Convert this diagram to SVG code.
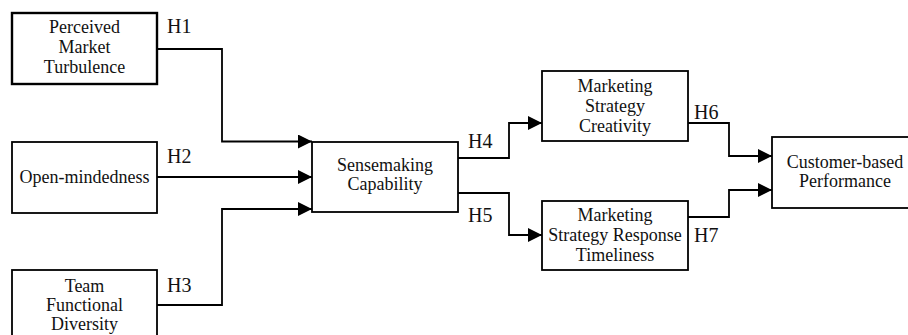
<svg xmlns="http://www.w3.org/2000/svg" width="908" height="335" viewBox="0 0 908 335">
<defs>
<style>
.box{fill:#fff;stroke:#000;stroke-width:1.8}
.t{font-family:"Liberation Serif","Times New Roman",serif;font-size:18px;fill:#111;text-anchor:middle}
.h{font-family:"Liberation Serif","Times New Roman",serif;font-size:20px;fill:#111}
.c{fill:none;stroke:#000;stroke-width:1.8}
</style>
<marker id="arr" markerUnits="userSpaceOnUse" markerWidth="15" markerHeight="14" refX="14" refY="7" orient="auto">
<path d="M0,0 L14,7 L0,14 Z" fill="#000"/>
</marker>
</defs>
<rect width="908" height="335" fill="#fff"/>
<g id="connectors">
<polyline class="c" points="157,49 222,49 222,141.5 312,141.5" marker-end="url(#arr)"/>
<polyline class="c" points="157,177 312,177" marker-end="url(#arr)"/>
<polyline class="c" points="157,305 222,305 222,209 312,209" marker-end="url(#arr)"/>
<polyline class="c" points="458,158 509,158 509,123 542,123" marker-end="url(#arr)"/>
<polyline class="c" points="458,193 509,193 509,235 542,235" marker-end="url(#arr)"/>
<polyline class="c" points="688,123 729,123 729,156 772,156" marker-end="url(#arr)"/>
<polyline class="c" points="688,217 729,217 729,190 772,190" marker-end="url(#arr)"/>
<text class="h" x="167" y="33">H1</text>
<text class="h" x="167" y="163">H2</text>
<text class="h" x="167" y="292">H3</text>
<text class="h" x="468" y="148">H4</text>
<text class="h" x="468" y="222">H5</text>
<text class="h" x="694" y="119">H6</text>
<text class="h" x="694" y="242">H7</text>
</g>
<g id="pmt">
<rect class="box" x="12" y="13" width="145" height="71" style="stroke-width:2.4"/>
<text class="t" x="84.5" y="33">Perceived</text>
<text class="t" x="84.5" y="53">Market</text>
<text class="t" x="84.5" y="73">Turbulence</text>
</g>
<g id="om">
<rect class="box" x="12" y="142" width="145" height="71"/>
<text class="t" x="84.5" y="183">Open-mindedness</text>
</g>
<g id="tfd">
<rect class="box" x="12" y="270" width="145" height="71"/>
<text class="t" x="84.5" y="292">Team</text>
<text class="t" x="84.5" y="311">Functional</text>
<text class="t" x="84.5" y="330">Diversity</text>
</g>
<g id="sc">
<rect class="box" x="312" y="142" width="146" height="70"/>
<text class="t" x="385" y="171">Sensemaking</text>
<text class="t" x="385" y="190">Capability</text>
</g>
<g id="msc">
<rect class="box" x="542" y="71" width="146" height="70"/>
<text class="t" x="615" y="92">Marketing</text>
<text class="t" x="615" y="112">Strategy</text>
<text class="t" x="615" y="132">Creativity</text>
</g>
<g id="msrt">
<rect class="box" x="542" y="201" width="146" height="69"/>
<text class="t" x="615" y="221">Marketing</text>
<text class="t" x="615" y="241">Strategy Response</text>
<text class="t" x="615" y="261">Timeliness</text>
</g>
<g id="cbp">
<rect class="box" x="772" y="137" width="146" height="71"/>
<text class="t" x="845" y="168">Customer-based</text>
<text class="t" x="845" y="187">Performance</text>
</g>
</svg>
